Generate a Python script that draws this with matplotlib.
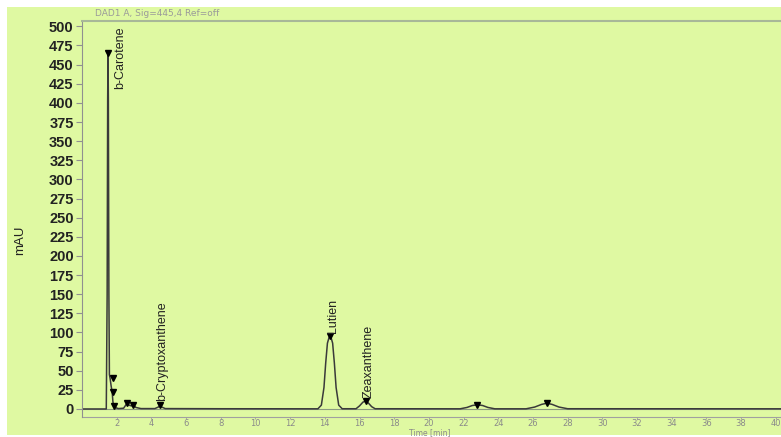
import numpy as np
import matplotlib
matplotlib.use("Agg")
import matplotlib.pyplot as plt
from matplotlib.patches import Rectangle

# ==================================
# DATA
# ==================================
time_min = [0.0, 1.0, 1.40, 1.45, 1.48, 1.50, 1.52, 1.55, 1.58, 1.62, 1.68, 1.74, 1.78,
            1.82, 1.88, 1.95, 2.1, 2.4, 2.55, 2.62, 2.7, 2.85, 2.98, 3.1, 3.4,
            4.2, 4.4, 4.5, 4.6, 4.8, 8.0, 13.6, 13.8, 13.95, 14.05, 14.15, 14.25,
            14.3, 14.35, 14.45, 14.55, 14.65, 14.8, 15.0, 15.8, 16.0, 16.2, 16.35,
            16.5, 16.7, 16.9, 21.8, 22.2, 22.5, 22.8, 23.1, 23.4, 23.8, 25.6, 26.1,
            26.5, 26.8, 27.1, 27.5, 28.0, 40.3]
signal_mau = [0.0, 0.0, 0.0, 150, 405, 465, 405, 150, 45, 40, 30, 22, 10,
              4, 3, 1.5, 0.5, 1, 6, 8, 5, 4, 5, 2, 0.5,
              0.5, 2.5, 4, 2.5, 0.5, 0.3, 0.2, 5, 28, 60, 86, 94,
              95, 94, 86, 60, 28, 5, 0.3, 0.3, 4, 9, 10,
              8, 3, 0.3, 0.2, 2, 4.5, 5.5, 4.5, 2, 0.2, 0.2, 2.5,
              6, 7.5, 6, 2.5, 0.3, 0.2]

apex_time = [1.50, 1.78, 1.78, 1.82, 2.58, 2.95, 4.5, 14.3, 16.35, 22.8, 26.8]
apex_mau = [465, 40, 22, 4, 8, 5, 5, 95, 10, 5.5, 7.5]

peak_names = ["b-Carotene", "b-Cryptoxanthene", "Lutien", "Zeaxanthene"]
peak_label_time = [2.2, 4.62, 14.45, 16.5]
peak_label_mau = [500, 10, 99, 14]

y_ticks = np.arange(0, 501, 25)
x_ticks = np.arange(2, 41, 2)

# ==================================
# FIGURE
# ==================================
fig = plt.figure(figsize=(7.81, 4.37), dpi=100, facecolor="white")
bg = "#dff9a2"
fig.patches.append(Rectangle((7 / 781, 0.005), 1.0, 1 - 7 / 437 - 0.005,
                             transform=fig.transFigure, facecolor=bg,
                             edgecolor="none", zorder=-10))

ax = fig.add_axes([82 / 781, 1 - 417 / 437, 1 - 82 / 781, (417 - 21) / 437])
ax.set_facecolor(bg)

# baseline and trace
ax.axhline(0, color="#8a9a80", lw=0.8, zorder=1)
ax.plot(time_min, signal_mau, color="#3a3a3a", lw=1.1, zorder=2)
ax.plot(apex_time, apex_mau, linestyle="none", marker="v", ms=5,
        color="black", zorder=3)

for name, t, y in zip(peak_names, peak_label_time, peak_label_mau):
    va = "top" if name == "b-Carotene" else "bottom"
    ax.text(t, y, name, rotation=90, ha="center", va=va, fontsize=9,
            family="Liberation Sans", color="#222222")

ax.set_xlim(0, 40.3)
ax.set_ylim(-10.5, 507)
ax.set_yticks(y_ticks)
ax.set_xticks(x_ticks)
ax.tick_params(axis="y", labelsize=10.5, labelcolor="#222222", color="#909090",
               length=4, width=0.8, pad=2)
ax.tick_params(axis="x", labelsize=6, labelcolor="#8a8a8a", color="#a0a0a0",
               length=1.5, width=0.6, pad=0)
for lab in ax.get_yticklabels():
    lab.set_family("Liberation Sans")
    lab.set_fontweight("bold")

for s in ["right", "bottom"]:
    ax.spines[s].set_visible(False)
ax.spines["left"].set_color("#909090")
ax.spines["top"].set_color("#a8b898")
ax.spines["top"].set_linewidth(1.5)

# the lower axis line sits a little below zero
ax.axhline(-10.5, color="#a0a0a0", lw=0.8, clip_on=False)

fig.text(20 / 781, 1 - 240 / 437, "mAU", rotation=90, ha="center", va="center",
         fontsize=9.5, color="#222222", family="Liberation Sans")
fig.text(95 / 781, 1 - 14 / 437, "DAD1 A, Sig=445,4 Ref=off", ha="left",
         va="center", fontsize=6.5, color="#9a9a9a")
fig.text(430 / 781, 1 - 432.5 / 437, "Time [min]", ha="center", va="center",
         fontsize=5.5, color="#8a8a8a")

fig.savefig("out.png", dpi=100, facecolor="white")
